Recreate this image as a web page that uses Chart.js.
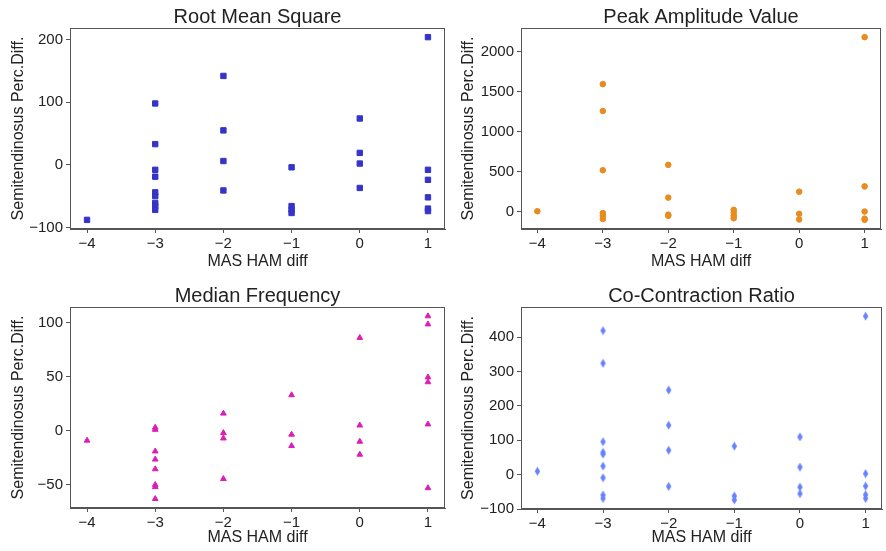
<!DOCTYPE html>
<html>
<head>
<meta charset="utf-8">
<script src="https://cdn.jsdelivr.net/npm/chart.js@4.4.1/dist/chart.umd.min.js"></script>
<style>
  html, body { margin: 0; padding: 0; background: #fff; }
  #fig { position: relative; width: 886px; height: 551px; }
  #fig canvas { position: absolute; }
</style>
</head>
<body>
<div id="fig">
  <canvas id="rms" width="450" height="275" style="left:0;top:0"></canvas>
  <canvas id="peak" width="436" height="275" style="left:450px;top:0"></canvas>
  <canvas id="mdf" width="450" height="276" style="left:0;top:275px"></canvas>
  <canvas id="ccr" width="436" height="276" style="left:450px;top:275px"></canvas>
</div>
<script>
// values
const xTicks = [-4, -3, -2, -1, 0, 1]
const xLabel = "MAS HAM diff"
const yLabel = "Semitendinosus Perc.Diff."

const rmsX = [-4, -3, -3, -3, -3, -3, -3, -3, -3, -3, -2, -2, -2, -2, -1, -1, -1, -1, 0, 0, 0, 0, 1, 1, 1, 1, 1, 1]
const rmsY = [-88, 98, 33, -8, -19, -44, -50, -61, -66, -72, 142, 55, 6, -41, -4, -66, -72, -77, 74, 19, 2, -37, 204, -8, -24, -52, -70, -74]
const rmsTicks = [-100, 0, 100, 200]

const peakX = [-4, -3, -3, -3, -3, -3, -3, -2, -2, -2, -2, -1, -1, -1, -1, 0, 0, 0, 1, 1, 1, 1, 1]
const peakY = [8, 1595, 1260, 520, -15, -50, -90, 587, 178, -35, -50, 25, -10, -50, -80, 252, -25, -95, 2182, 318, 4, -85, -100]
const peakTicks = [0, 500, 1000, 1500, 2000]

const mdfX = [-4, -3, -3, -3, -3, -3, -3, -3, -3, -2, -2, -2, -2, -1, -1, -1, 0, 0, 0, 0, 1, 1, 1, 1, 1, 1]
const mdfY = [-9, 3, 1, -19, -26.5, -35.5, -50, -52, -63, 16, -2, -7, -44.5, 33, -3.5, -14, 86, 5, -10, -22, 106, 98.5, 49.5, 45, 6, -53]
const mdfTicks = [-50, 0, 50, 100]

const ccrX = [-4, -3, -3, -3, -3, -3, -3, -3, -3, -3, -2, -2, -2, -2, -1, -1, -1, 0, 0, 0, 0, 1, 1, 1, 1, 1]
const ccrY = [10, 419, 324, 96, 65, 60, 25, -9, -59, -69, 246, 144, 71, -34, 83, -62, -73, 110, 22, -36, -55, 461, 3, -33, -58, -69]
const ccrTicks = [-100, 0, 100, 200, 300, 400]

const font = "'Liberation Sans', Arial, Helvetica, sans-serif"
const ink = "#222222"
const spine = "#555555"

Chart.defaults.font.family = font
Chart.defaults.color = ink

// matplotlib-style 5% margins around the data
function padRange(vals) {
  const lo = Math.min(...vals)
  const hi = Math.max(...vals)
  const m = (hi - lo) * 0.05
  return [lo - m, hi + m]
}

function minus(v) {
  return String(v).replace("-", "\u2212")
}

// thin diamond marker like matplotlib's "d"
function thinDiamond(color) {
  const c = document.createElement("canvas")
  c.width = 7
  c.height = 10
  const g = c.getContext("2d")
  g.fillStyle = color
  g.beginPath()
  g.moveTo(3.5, 0.5)
  g.lineTo(6.2, 5)
  g.lineTo(3.5, 9.5)
  g.lineTo(0.8, 5)
  g.closePath()
  g.fill()
  return c
}

const frame = {
  id: "frame",
  afterDraw(chart) {
    const { ctx, chartArea: a } = chart
    ctx.save()
    ctx.strokeStyle = spine
    ctx.lineWidth = 1
    const l = Math.round(a.left) + 0.5
    const t = Math.round(a.top) + 0.5
    const r = Math.round(a.right) - 0.5
    const b = Math.round(a.bottom) - 0.5
    ctx.strokeRect(l, t, r - l, b - t)
    ctx.restore()
  }
}

function makePanel(id, p) {
  const [xmin, xmax] = padRange(xTicks)
  const [ymin, ymax] = padRange(p.ys)
  const points = p.xs.map((x, i) => ({ x, y: p.ys[i] }))

  return new Chart(document.getElementById(id), {
    type: "scatter",
    data: {
      datasets: [{
        data: points,
        pointStyle: p.style,
        pointRadius: p.radius,
        backgroundColor: p.color,
        borderColor: p.color,
        borderWidth: p.border
      }]
    },
    options: {
      responsive: false,
      animation: false,
      devicePixelRatio: 1,
      events: [],
      layout: { padding: { top: p.padTop, right: p.padRight, left: 0, bottom: 0 } },
      plugins: {
        legend: { display: false },
        tooltip: { enabled: false },
        title: {
          display: true,
          text: p.title,
          fullSize: false,
          color: ink,
          font: { size: 20, weight: "normal", lineHeight: 1 },
          padding: { top: 7, bottom: 1 }
        }
      },
      scales: {
        x: {
          type: "linear",
          min: xmin,
          max: xmax,
          afterBuildTicks: (axis) => { axis.ticks = xTicks.map((v) => ({ value: v })) },
          afterFit: (axis) => {
            axis.height = p.xAxisHeight
            axis.paddingLeft = 0
            axis.paddingRight = 0
          },
          grid: { drawOnChartArea: false, tickLength: 4, color: spine },
          border: { display: true, color: spine },
          ticks: {
            autoSkip: false,
            maxRotation: 0,
            padding: 2,
            color: ink,
            font: { size: 15 },
            callback: (v) => minus(v)
          },
          title: {
            display: true,
            text: xLabel,
            color: ink,
            font: { size: 16 },
            padding: { top: 0, bottom: 4 }
          }
        },
        y: {
          type: "linear",
          min: ymin,
          max: ymax,
          afterBuildTicks: (axis) => { axis.ticks = p.yTicks.map((v) => ({ value: v })) },
          afterFit: (axis) => {
            axis.width = p.yAxisWidth
            axis.paddingTop = 0
            axis.paddingBottom = 0
          },
          grid: { drawOnChartArea: false, tickLength: 4, color: spine },
          border: { display: true, color: spine },
          ticks: {
            autoSkip: false,
            padding: 3,
            color: ink,
            font: { size: 15 },
            callback: (v) => minus(v)
          },
          title: {
            display: true,
            text: yLabel,
            color: ink,
            font: { size: 16 },
            padding: { top: 9, bottom: 0 }
          }
        }
      }
    },
    plugins: [frame]
  })
}

makePanel("rms", {
  title: "Root Mean Square", xs: rmsX, ys: rmsY, yTicks: rmsTicks,
  color: "#3434c8", style: "rect", radius: 3.8, border: 1,
  padTop: 0, padRight: 5, xAxisHeight: 46, yAxisWidth: 70
})

makePanel("peak", {
  title: "Peak Amplitude Value", xs: peakX, ys: peakY, yTicks: peakTicks,
  color: "#e88c20", style: "circle", radius: 2.8, border: 1,
  padTop: 0, padRight: 1, xAxisHeight: 46, yAxisWidth: 71
})

makePanel("mdf", {
  title: "Median Frequency", xs: mdfX, ys: mdfY, yTicks: mdfTicks,
  color: "#dc1eb4", style: "triangle", radius: 3.3, border: 1,
  padTop: 4, padRight: 5, xAxisHeight: 43, yAxisWidth: 70
})

makePanel("ccr", {
  title: "Co-Contraction Ratio", xs: ccrX, ys: ccrY, yTicks: ccrTicks,
  color: "#6682ff", style: thinDiamond("#6682ff"), radius: 4, border: 0,
  padTop: 4, padRight: 1, xAxisHeight: 42, yAxisWidth: 71
})
</script>
</body>
</html>
